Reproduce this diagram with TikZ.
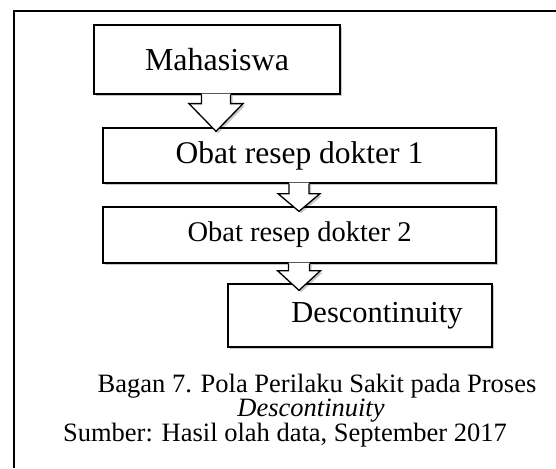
\documentclass[tikz,border=0pt]{standalone}
\usepackage{fontspec}
\setmainfont{Liberation Serif}
\usetikzlibrary{calc,shadows}

\tikzset{
  boxshadow/.style={drop shadow={shadow xshift=2pt, shadow yshift=-2pt, opacity=0.22, fill=black}},
  flowbox/.style={draw=black, line width=1.3pt, fill=white, inner sep=0pt, boxshadow},
  arrowfill/.style={fill=white, boxshadow},
  arrowline/.style={draw=black, line width=1.3pt, line join=miter},
  frameline/.style={draw=black, line width=2pt},
  captext/.style={inner sep=0pt, anchor=base, font=\fontsize{26.5}{30}\selectfont},
}

% Block arrow from the bottom of #1 to the top of #2.
% #3 centre x, #4 shaft half width, #5 head half width, #6 shaft length, #7 tip overlap
\newcommand\flowarrow[7]{%
  \fill[arrowfill] let \p1=(#1.south), \p2=(#2.north) in
    (#3pt-#4pt,\y1+1pt) -- (#3pt-#4pt,\y1-#6pt) -- (#3pt-#5pt,\y1-#6pt)
    -- (#3pt,\y2-#7pt) -- (#3pt+#5pt,\y1-#6pt) -- (#3pt+#4pt,\y1-#6pt)
    -- (#3pt+#4pt,\y1+1pt) -- cycle;
  \draw[arrowline] let \p1=(#1.south), \p2=(#2.north) in
    (#3pt-#4pt,\y1) -- (#3pt-#4pt,\y1-#6pt) -- (#3pt-#5pt,\y1-#6pt)
    -- (#3pt,\y2-#7pt) -- (#3pt+#5pt,\y1-#6pt) -- (#3pt+#4pt,\y1-#6pt)
    -- (#3pt+#4pt,\y1);
}

\begin{document}
\begin{tikzpicture}[x=1pt,y=-1pt]
\useasboundingbox (0,0) rectangle (556,468);

% outer frame (left and top edges)
\draw[frameline] (14,468) -- (14,11) -- (556,11);

% process boxes
\node[flowbox, minimum width=246pt, minimum height=69pt,
      font=\fontsize{32}{36}\selectfont] (mhs) at (217,59.5) {Mahasiswa};
\node[flowbox, minimum width=393pt, minimum height=55pt,
      font=\fontsize{31.5}{36}\selectfont] (ob1) at (299.5,155.5) {Obat resep dokter 1};
\node[flowbox, minimum width=393pt, minimum height=56pt,
      font=\fontsize{28.5}{32}\selectfont] (ob2) at (299.5,235) {Obat resep dokter 2};
\node[flowbox, minimum width=264pt, minimum height=63pt,
      font=\fontsize{30.5}{34}\selectfont] (dsc) at (360,315.5) {\hspace*{34pt}Descontinuity};

% block arrows between the boxes
\flowarrow{mhs}{ob1}{216}{14.5}{27}{9}{4}
\flowarrow{ob1}{ob2}{299}{10}{21}{10}{5}
\flowarrow{ob2}{dsc}{299}{10.5}{21.5}{7}{7}

% caption
\node[captext] (cap1) at (317,392) {Bagan 7. Pola Perilaku Sakit pada Proses};
\node[captext] (cap2) at (311,416.5) {\itshape Descontinuity};
\node[captext] (cap3) at (285,441) {Sumber: Hasil olah data, September 2017};
\end{tikzpicture}
\end{document}
